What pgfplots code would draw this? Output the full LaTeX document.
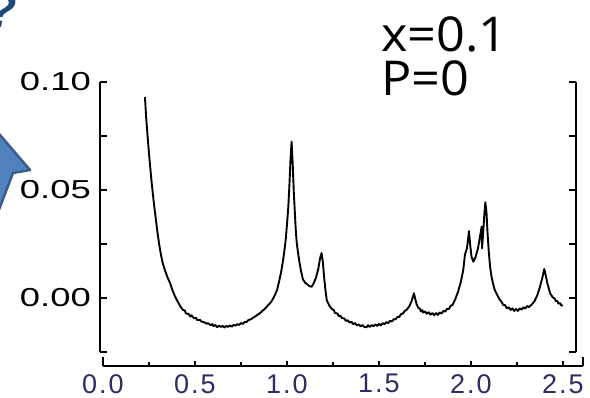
\documentclass[border=0pt]{standalone}
\usepackage{pgfplots}
\pgfplotsset{compat=1.18}
\usepackage{fontspec}
\setmainfont{Liberation Sans}
\newfontfamily\notefont{Open Sans}
\definecolor{xlc}{RGB}{45,45,100}
\definecolor{arrowfill}{RGB}{79,129,189}
\definecolor{arrowline}{RGB}{56,93,138}
\definecolor{qcol}{RGB}{31,73,125}
\newcommand\yl[1]{\scalebox{1.4}[1]{\fontsize{26}{26}\selectfont #1}}
\newcommand\xl[2]{\mbox{\fontsize{27}{27}\selectfont\color{xlc}#1\kern2pt.\kern2pt#2}}
\begin{document}
\begin{tikzpicture}[x=1pt,y=1pt]
\useasboundingbox (0,0) rectangle (590,398);
% blue arrow (partly outside the picture)
\draw[fill=arrowfill, draw=arrowline, line width=2.5pt, line join=round]
  (-30,298) -- (30,228) -- (13,225) -- (-8,170) -- (-60,170) -- (-60,298) -- cycle;
% question mark (cropped)
\node[anchor=base west, inner sep=0pt, text=qcol, font=\fontsize{48}{48}\selectfont\bfseries\itshape] at (-13,370) {?};
% annotation
\node[anchor=base west, inner sep=0pt, font=\notefont\fontsize{48}{48}\selectfont] at (381,346) {\scalebox{1.05}[1]{x=0.1}};
\node[anchor=base west, inner sep=0pt, font=\notefont\fontsize{48}{48}\selectfont] at (381,302) {\scalebox{1.05}[1]{P=0}};
% main plot
\begin{axis}[
  at={(100pt,46pt)}, anchor=south west,
  scale only axis, width=476pt, height=270pt,
  xmin=-0.0163, xmax=2.5707, ymin=-0.025, ymax=0.10,
  axis x line=none, axis y line=box,
  ytick={-0.025,0,0.025,0.05,0.075,0.1},
  yticklabels={,\yl{0.00},,\yl{0.05},,\yl{0.10}},
  tick align=inside, major tick length=7pt,
  ytick pos=both,
  yticklabel style={anchor=east, inner sep=0pt, xshift=-9pt},
  y axis line style={line width=1.2pt},
  every tick/.style={black, line width=1.1pt},
  clip=false,
]
\addplot[black, line width=1.9pt, line join=round] coordinates {
(0.228,0.093)(0.235,0.083)(0.245,0.072)(0.255,0.062)(0.265,0.053)(0.275,0.045)
(0.285,0.038)(0.295,0.031)(0.305,0.025)(0.315,0.020)(0.325,0.0160)(0.337,0.0128)
(0.35,0.0097)(0.364,0.007)(0.378,0.0035)(0.391,0.0008)(0.405,-0.0015)(0.42,-0.0038)
(0.435,-0.0056)(0.445,-0.0058)(0.45,-0.0071)(0.465,-0.0074)(0.475,-0.0086)(0.48,-0.0080)
(0.495,-0.0094)(0.505,-0.0091)(0.51,-0.0101)(0.527,-0.0101)(0.535,-0.0109)(0.54,-0.0110)
(0.555,-0.0114)(0.565,-0.0120)(0.57,-0.0116)(0.585,-0.0126)(0.595,-0.0121)(0.60,-0.0130)
(0.61,-0.0125)(0.62,-0.0135)(0.63,-0.0128)(0.64,-0.0134)(0.65,-0.0129)(0.66,-0.0137)
(0.67,-0.0129)(0.68,-0.0134)(0.69,-0.0127)(0.70,-0.0133)(0.71,-0.0125)(0.72,-0.0128)
(0.73,-0.0121)(0.74,-0.0125)(0.75,-0.0116)(0.76,-0.0120)(0.77,-0.0111)(0.78,-0.0111)
(0.79,-0.0102)(0.80,-0.0100)(0.81,-0.0095)(0.82,-0.0089)(0.83,-0.0084)(0.84,-0.0078)
(0.85,-0.0072)(0.86,-0.0065)(0.87,-0.0057)(0.88,-0.0050)(0.89,-0.0040)(0.90,-0.0031)
(0.91,-0.0022)(0.92,-0.0010)(0.935,0.0015)(0.946,0.0037)(0.958,0.008)(0.968,0.012)
(0.978,0.017)(0.986,0.022)(0.993,0.027)(1.000,0.034)(1.007,0.042)(1.013,0.052)
(1.019,0.064)(1.025,0.0724)(1.031,0.062)(1.037,0.049)(1.043,0.039)(1.048,0.031)
(1.053,0.0255)(1.060,0.021)(1.067,0.017)(1.075,0.013)(1.087,0.0085)(1.100,0.0070)
(1.112,0.0062)(1.122,0.0055)(1.134,0.0052)(1.145,0.0068)(1.158,0.0095)(1.170,0.0135)
(1.180,0.0185)(1.188,0.0208)(1.195,0.0165)(1.203,0.0085)(1.210,0.003)(1.216,-0.001)
(1.230,-0.0035)(1.245,-0.0052)(1.255,-0.0056)(1.260,-0.0069)(1.275,-0.0072)(1.28,-0.0083)
(1.29,-0.0082)(1.30,-0.0094)(1.31,-0.0094)(1.32,-0.0106)(1.33,-0.0103)(1.34,-0.0114)
(1.35,-0.0110)(1.36,-0.0121)(1.37,-0.0116)(1.38,-0.0127)(1.39,-0.0122)(1.40,-0.0132)
(1.41,-0.0125)(1.42,-0.0134)(1.433,-0.0135)(1.44,-0.0126)(1.45,-0.0134)(1.46,-0.0125)
(1.47,-0.0131)(1.48,-0.0122)(1.49,-0.0129)(1.50,-0.0120)(1.51,-0.0127)(1.52,-0.0117)
(1.53,-0.0121)(1.54,-0.0112)(1.55,-0.0116)(1.56,-0.0106)(1.57,-0.0109)(1.58,-0.0098)
(1.59,-0.0099)(1.60,-0.0088)(1.61,-0.0088)(1.62,-0.0074)(1.63,-0.0072)(1.64,-0.0060)
(1.65,-0.0055)(1.665,-0.0038)(1.677,-0.0015)(1.685,0.0008)(1.69,0.0022)(1.697,-0.0005)
(1.705,-0.0030)(1.715,-0.0048)(1.722,-0.0048)(1.727,-0.0062)(1.735,-0.0056)(1.74,-0.0067)
(1.75,-0.0062)(1.76,-0.0073)(1.77,-0.0066)(1.78,-0.0077)(1.79,-0.0070)(1.80,-0.0080)
(1.81,-0.0070)(1.82,-0.0078)(1.83,-0.0067)(1.84,-0.0072)(1.85,-0.0060)(1.86,-0.0063)
(1.87,-0.0050)(1.88,-0.0051)(1.89,-0.0036)(1.90,-0.0032)(1.915,-0.0005)(1.93,0.0030)
(1.945,0.0075)(1.958,0.013)(1.967,0.020)(1.978,0.023)(1.985,0.028)(1.989,0.031)
(1.995,0.025)(2.003,0.019)(2.013,0.0168)(2.025,0.019)(2.038,0.023)(2.048,0.028)
(2.058,0.033)(2.060,0.023)(2.066,0.030)(2.072,0.038)(2.078,0.0443)(2.084,0.040)
(2.090,0.030)(2.097,0.021)(2.104,0.0145)(2.110,0.0106)(2.120,0.0065)(2.130,0.0035)
(2.145,0.0010)(2.158,-0.001)(2.165,-0.0016)(2.175,-0.0032)(2.185,-0.0033)(2.195,-0.0048)
(2.205,-0.0043)(2.215,-0.0055)(2.225,-0.0048)(2.235,-0.0060)(2.245,-0.0051)(2.255,-0.0060)
(2.265,-0.0048)(2.275,-0.0054)(2.285,-0.0043)(2.295,-0.0049)(2.305,-0.0037)(2.315,-0.0042)
(2.33,-0.0030)(2.345,-0.0015)(2.36,0.0012)(2.375,0.0052)(2.388,0.0095)(2.398,0.0134)
(2.405,0.0110)(2.415,0.0068)(2.43,0.0022)(2.445,0.0002)(2.455,-0.0002)(2.46,-0.0014)
(2.47,-0.0014)(2.475,-0.0026)(2.485,-0.0024)(2.49,-0.0034)(2.50,-0.0035)
};
\end{axis}
% separate x axis
\begin{axis}[
  at={(103pt,32pt)}, anchor=south west,
  scale only axis, width=480pt, height=10pt,
  xmin=0, xmax=2.6087, ymin=0, ymax=1,
  axis x line*=bottom, axis y line=none,
  xtick={0,0.5,1,1.5,2,2.5},
  xticklabels={\xl{0}{0},\xl{0}{5},\xl{1}{0},\xl{1}{5},\xl{2}{0},\xl{2}{5}},
  minor xtick={0.25,0.75,1.25,1.75,2.25},
  extra x ticks={0,2.6087},
  extra x tick labels={{},{}},
  extra x tick style={major tick length=9pt},
  tick align=inside, major tick length=5pt, minor tick length=4pt,
  xticklabel style={anchor=north, inner sep=0pt, yshift=-8pt},
  x axis line style={line width=2pt, -},
  every tick/.style={black, line width=1.1pt},
]
\end{axis}
\end{tikzpicture}
\end{document}
